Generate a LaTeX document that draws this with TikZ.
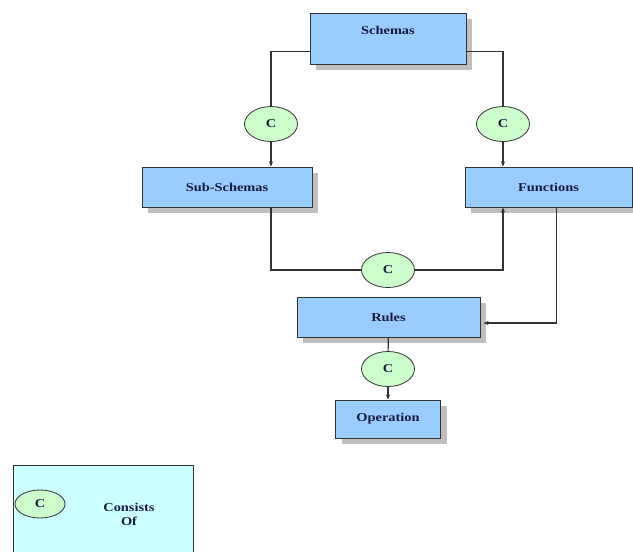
\documentclass[tikz,border=0pt]{standalone}
\usepackage{fontspec}
\setmainfont{Liberation Serif}
\newfontfamily\boxfont[FakeStretch=1.2]{Liberation Serif}
\usetikzlibrary{arrows.meta,shadows,shapes.geometric}
\definecolor{boxblue}{HTML}{99CCFF}
\definecolor{consgreen}{HTML}{CCFFCC}
\definecolor{legendcyan}{HTML}{CCFFFF}
\definecolor{labelnavy}{HTML}{1A1A40}
\definecolor{edgegray}{HTML}{333333}
\begin{document}
\begin{tikzpicture}[x=1pt, y=-1pt,
    box/.style={draw=edgegray, fill=boxblue, line width=1pt,
        font=\boxfont\bfseries\fontsize{12}{14}\selectfont, text=labelnavy,
        drop shadow={shadow xshift=6pt, shadow yshift=-6pt, fill=black!25, opacity=1}},
    cons/.style={ellipse, draw=edgegray, fill=consgreen, line width=0.8pt,
        minimum width=53pt, minimum height=35pt, inner sep=0pt,
        font=\boxfont\bfseries\fontsize{12}{14}\selectfont, text=labelnavy},
    link/.style={draw=edgegray, line width=1.1pt},
    >={Stealth[length=5pt, width=4pt]}]

    \useasboundingbox (0,0) rectangle (633,552);

    % Boxes
    \node[box, minimum width=156pt, minimum height=51pt, text depth=16pt] (schemas) at (388,38.5) {Schemas};
    \node[box, minimum width=170pt, minimum height=40pt] (subschemas) at (227,187) {Sub-Schemas};
    \node[box, minimum width=167pt, minimum height=40pt] (functions) at (548.5,187) {Functions};
    \node[box, minimum width=183pt, minimum height=40pt] (rules) at (388.5,317) {Rules};
    \node[box, minimum width=105pt, minimum height=38pt] (operation) at (388,419) {Operation};

    % Consists-of marks
    \node[cons] (c1) at (271,124) {C};
    \node[cons] (c2) at (503,124) {C};
    \node[cons] (c3) at (388,270) {C};
    \node[cons] (c4) at (388,369) {C};

    % Connectors
    \draw[link] ([yshift=-13pt]schemas.west) -| (c1);
    \draw[link, ->] (c1) -- (c1 |- subschemas.north);
    \draw[link] ([yshift=-13pt]schemas.east) -| (c2);
    \draw[link, ->] (c2) -- (c2 |- functions.north);
    \draw[link] (subschemas.south -| c1) |- (c3);
    \draw[link, ->] (c3) -| (functions.south -| c2);
    \draw[link, ->] ([xshift=8pt]functions.south) |- ([yshift=-6pt, xshift=3pt]rules.east);
    \draw[link] (rules) -- (c4);
    \draw[link, ->] (c4) -- (operation);

    % Legend
    \fill[legendcyan] (13,465) rectangle (193,552);
    \draw[draw=edgegray, line width=1pt] (13,552) -- (13,465) -- (193,465) -- (193,552);
    \node[cons, minimum width=50pt, minimum height=28pt] (key) at (40,504) {C};
    \node[font=\boxfont\bfseries\fontsize{12}{14}\selectfont, text=labelnavy, align=center] (keytext) at (129,514) {Consists\\Of};

\end{tikzpicture}
\end{document}
